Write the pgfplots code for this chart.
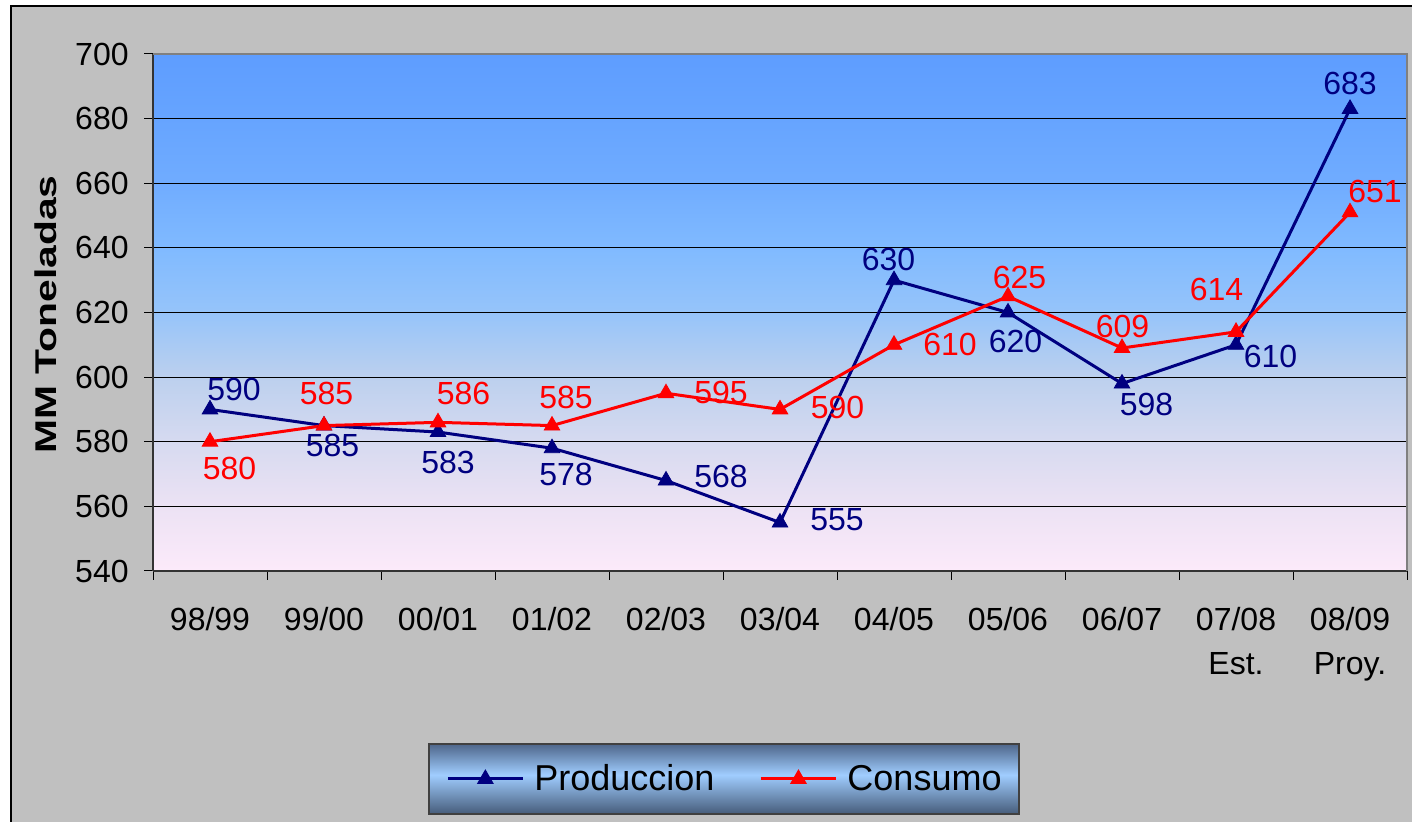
\documentclass[border=0pt]{standalone}
\usepackage{fontspec}
\setmainfont{Liberation Sans}
\newfontfamily\labfont{Liberation Sans}[FakeStretch=1.36]
\usepackage{pgfplots}
\usepackage{pgfplotstable}
\pgfplotsset{compat=1.18}

\definecolor{prod}{RGB}{0,0,128}
\definecolor{cons}{RGB}{255,0,0}
\definecolor{bg}{RGB}{192,192,192}

% plot area gradient, bottom to top
\definecolor{g0}{RGB}{252,234,250}
\definecolor{g1}{RGB}{236,226,244}
\definecolor{g2}{RGB}{214,218,240}
\definecolor{g3}{RGB}{188,208,238}
\definecolor{g4}{RGB}{150,196,250}
\definecolor{g5}{RGB}{128,186,255}
\definecolor{g6}{RGB}{112,172,255}
\definecolor{g7}{RGB}{102,164,255}
\definecolor{g8}{RGB}{94,157,255}
\pgfdeclareverticalshading{plotbg}{100bp}{color(0bp)=(g0); color(25bp)=(g0);
  color(31.25bp)=(g1); color(37.5bp)=(g2); color(43.75bp)=(g3); color(50bp)=(g4);
  color(56.25bp)=(g5); color(62.5bp)=(g6); color(68.75bp)=(g7); color(75bp)=(g8); color(100bp)=(g8)}

% legend gradient
\definecolor{l0}{RGB}{70,92,122}
\definecolor{l1}{RGB}{160,205,255}
\definecolor{l2}{RGB}{78,102,138}
\pgfdeclareverticalshading{legbg}{100bp}{color(0bp)=(l0); color(25bp)=(l0);
  color(53bp)=(l1); color(75bp)=(l2); color(100bp)=(l2)}

% x y dx dy (label offsets in pt)
\pgfplotstableread{
x y dx dy
0 590 12 10
1 585 4.25 -10
2 583 5 -15.25
3 578 7 -13
4 568 27.5 1.8
5 555 28.5 1.25
6 630 -2.75 10.5
7 620 3.75 -14.25
8 598 12.25 -10.5
9 610 17.25 -6
10 683 0 12.75
}\prodtab

\pgfplotstableread{
x y dx dy
0 580 9.75 -13.25
1 585 1.25 16
2 586 12.75 14.5
3 585 7 13.8
4 595 27.5 0.5
5 590 28.75 0.75
6 610 28 0
7 625 5.75 9.5
8 609 0.25 11
9 614 -9.75 21
10 651 12.5 10.5
}\constab

\begin{document}
\begin{tikzpicture}
\useasboundingbox (0,0) rectangle (706pt,411pt);
\fill[white] (0,0) rectangle (706pt,411pt);
\fill[bg] (5.5pt,0) rectangle (706pt,408pt);
\draw[black, line width=0.75pt] (5.5pt,0) -- (5.5pt,408pt) -- (706pt,408pt);
% legend box
\shade[shading=legbg, draw=black!75, line width=0.6pt] (214.5pt,4pt) rectangle (509.5pt,39pt);
\begin{axis}[
  at={(76.5pt,125.5pt)}, anchor=south west,
  scale only axis, width=627pt, height=258.5pt,
  xmin=-0.5, xmax=10.5, ymin=540, ymax=700,
  ytick={540,560,...,700},
  xtick={-0.5,0.5,...,10.5},
  x tick label as interval,
  xticklabels={98/99,99/00,00/01,01/02,02/03,03/04,04/05,05/06,06/07,{07/08\\Est.},{08/09\\Proy.}},
  axis x line*=bottom, axis y line*=left,
  axis line style={black!80, line width=0.75pt},
  tick align=outside, major tick length=4.5pt,
  tick style={black, line width=0.5pt},
  ymajorgrids, grid style={black, line width=0.5pt},
  axis background/.style={shading=plotbg},
  /pgf/number format/assume math mode=true,
  tick label style={font=\fontsize{16}{22}\selectfont, inner sep=0pt},
  x tick label style={align=center},
  xticklabel shift=13.5pt, yticklabel shift=7.5pt,
  ylabel={\labfont\bfseries MM Toneladas},
  ylabel style={at={(axis description cs:-0.0857,0.496)}, anchor=center, font=\fontsize{15}{18}\selectfont},
  legend style={at={(0.4553,-0.4023)}, anchor=center, legend columns=-1,
    draw=none, fill=none,
    inner xsep=10.25pt, inner ysep=10.75pt,
    font=\fontsize{18}{21}\selectfont,
    nodes={inner sep=0pt},
    /tikz/every odd column/.append style={column sep=5pt},
    /tikz/every even column/.append style={column sep=22.5pt}},
  legend image code/.code={\draw[#1, mark repeat=2, mark phase=2] plot coordinates {(0pt,0pt) (18.75pt,0pt) (37.5pt,0pt)};},
  after end axis/.code={\draw[black!50, line width=1.25pt] (rel axis cs:0,1) -- (rel axis cs:1,1) -- (rel axis cs:1,0);},
]
\addlegendimage{prod, line width=1.5pt, mark=triangle*, mark size=4.5pt, mark options={solid, line width=0.4pt}}
\addlegendentry{Produccion}
\addlegendimage{cons, line width=1.5pt, mark=triangle*, mark size=4.5pt, mark options={solid, line width=0.4pt}}
\addlegendentry{Consumo}

\addplot[forget plot, prod, line width=1.5pt, mark=triangle*, mark size=4.5pt, mark options={solid, line width=0.4pt},
  point meta=explicit symbolic, nodes near coords,
  visualization depends on={\thisrow{dx}\as\dx},
  visualization depends on={\thisrow{dy}\as\dy},
  nodes near coords style={anchor=center, xshift={\dx pt}, yshift={\dy pt}, inner sep=0pt, text=prod, font=\fontsize{16}{19}\selectfont}]
  table[x=x, y=y, meta=y] {\prodtab};
\addplot[forget plot, cons, line width=1.5pt, mark=triangle*, mark size=4.5pt, mark options={solid, line width=0.4pt},
  point meta=explicit symbolic, nodes near coords,
  visualization depends on={\thisrow{dx}\as\dx},
  visualization depends on={\thisrow{dy}\as\dy},
  nodes near coords style={anchor=center, xshift={\dx pt}, yshift={\dy pt}, inner sep=0pt, text=cons, font=\fontsize{16}{19}\selectfont}]
  table[x=x, y=y, meta=y] {\constab};
\end{axis}
\end{tikzpicture}
\end{document}
